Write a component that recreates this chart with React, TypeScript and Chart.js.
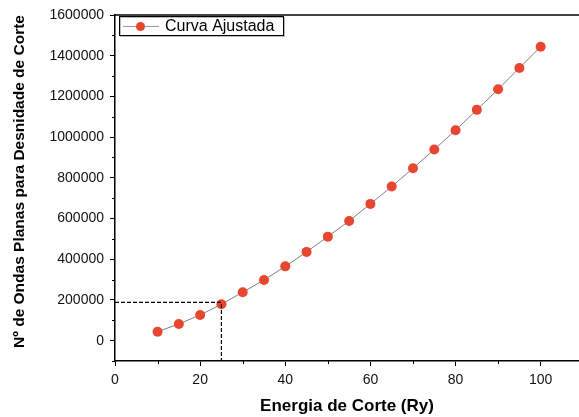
import React, { useEffect, useRef } from "react";
import { Chart, registerables } from "chart.js";

Chart.register(...registerables);

const energies = [10, 15, 20, 25, 30, 35, 40, 45, 50, 55, 60, 65, 70, 75, 80, 85, 90, 95, 100];
const planeWaves = [44000, 82000, 126000, 179000, 238000, 298000, 365000, 436000, 511000, 588000, 672000, 757000, 847000, 939000, 1034000, 1134000, 1235000, 1340000, 1444000];
const xMajorTicks = [0, 20, 40, 60, 80, 100];
const xMinorTicks = [10, 30, 50, 70, 90];
const yMajorTicks = [0, 200000, 400000, 600000, 800000, 1000000, 1200000, 1400000, 1600000];
const yMinorTicks = [-100000, 100000, 300000, 500000, 700000, 900000, 1100000, 1300000, 1500000];
const guideX = 25;
const guideY = 188000;
const legendLabel = "Curva Ajustada";
const xTitle = "Energia de Corte (Ry)";
const yTitle = "Nº de Ondas Planas para Desnidade de Corte";

const RED = "#e8462f";
const FONT = "'Liberation Sans', Arial, sans-serif";

const decorPlugin = {
  id: "decor",
  afterDraw(chart: any) {
    const { ctx, chartArea } = chart;
    const xs = chart.scales.x;
    const ys = chart.scales.y;
    ctx.save();
    // top border
    ctx.strokeStyle = "#000";
    ctx.lineWidth = 1.5;
    ctx.beginPath();
    ctx.moveTo(chartArea.left, chartArea.top);
    ctx.lineTo(chartArea.right, chartArea.top);
    ctx.stroke();
    // minor ticks
    ctx.lineWidth = 1;
    ctx.beginPath();
    xMinorTicks.forEach((v) => {
      const px = Math.round(xs.getPixelForValue(v)) + 0.5;
      ctx.moveTo(px, chartArea.bottom);
      ctx.lineTo(px, chartArea.bottom + 3);
    });
    yMinorTicks.forEach((v) => {
      const py = Math.round(ys.getPixelForValue(v)) + 0.5;
      ctx.moveTo(chartArea.left, py);
      ctx.lineTo(chartArea.left - 3, py);
    });
    ctx.stroke();
    // y title
    ctx.save();
    ctx.translate(20, 181.5);
    ctx.rotate(-Math.PI / 2);
    ctx.fillStyle = "#000";
    ctx.font = `bold 15.5px ${FONT}`;
    ctx.textAlign = "center";
    ctx.textBaseline = "middle";
    ctx.fillText(yTitle, 0, 0);
    ctx.restore();
    // legend
    const lx = chartArea.left + 4;
    const ly = chartArea.top + 1;
    const lw = 164;
    const lh = 19;
    ctx.fillStyle = "#fff";
    ctx.fillRect(lx, ly, lw, lh);
    ctx.strokeStyle = "#bbb";
    ctx.lineWidth = 1;
    ctx.strokeRect(lx + 1.5, ly + 1.5, lw, lh);
    ctx.strokeStyle = "#000";
    ctx.strokeRect(lx + 0.5, ly + 0.5, lw, lh);
    ctx.strokeStyle = "#999";
    ctx.beginPath();
    ctx.moveTo(lx + 4, ly + 10.5);
    ctx.lineTo(lx + 40, ly + 10.5);
    ctx.stroke();
    ctx.fillStyle = RED;
    ctx.beginPath();
    ctx.arc(lx + 21.5, ly + 10.5, 4.5, 0, Math.PI * 2);
    ctx.fill();
    ctx.fillStyle = "#000";
    ctx.font = `16px ${FONT}`;
    ctx.textBaseline = "middle";
    ctx.textAlign = "left";
    ctx.fillText(legendLabel, lx + 46, ly + 11);
    ctx.restore();
  },
};

export default function App() {
  const ref = useRef<HTMLCanvasElement | null>(null);
  useEffect(() => {
    document.body.style.margin = "0";
    document.body.style.background = "#fff";
    const canvas = ref.current!;
    const chart = new Chart(canvas, {
      type: "scatter",
      data: {
        datasets: [
          {
            label: "guide",
            data: [
              { x: xMajorTicks[0], y: guideY },
              { x: guideX, y: guideY },
              { x: guideX, y: yMinorTicks[0] },
            ],
            showLine: true,
            borderColor: "#000",
            borderWidth: 1.2,
            borderDash: [4, 2],
            pointRadius: 0,
            fill: false,
          },
          {
            label: legendLabel,
            data: energies.map((e, i) => ({ x: e, y: planeWaves[i] })),
            showLine: true,
            borderColor: "#808080",
            borderWidth: 1,
            pointRadius: 5,
            pointBackgroundColor: RED,
            pointBorderColor: RED,
            pointBorderWidth: 0,
          },
        ],
      },
      options: {
        responsive: false,
        animation: false,
        layout: { autoPadding: false, padding: { top: 15, right: 0, left: 0, bottom: 0 } },
        plugins: {
          legend: { display: false },
          tooltip: { enabled: false },
        },
        scales: {
          x: {
            type: "linear",
            min: 0,
            max: 109,
            afterBuildTicks: (s: any) => {
              s.ticks = xMajorTicks.map((v) => ({ value: v }));
            },
            afterFit: (s: any) => {
              s.height = 56;
              s.paddingLeft = 0;
              s.paddingRight = 0;
            },
            grid: {
              drawOnChartArea: false,
              drawTicks: true,
              tickLength: 5,
              tickColor: "#000",
              tickWidth: 1,
            },
            border: { display: true, color: "#000", width: 1.5 },
            ticks: {
              color: "#111",
              font: { family: FONT, size: 14 },
              padding: 6,
              maxRotation: 0,
              callback: (v: any) => String(v),
            },
            title: {
              display: true,
              text: xTitle,
              color: "#000",
              font: { family: FONT, size: 17, weight: "bold" },
              padding: { top: 0, bottom: 0 },
            },
          },
          y: {
            type: "linear",
            min: -100000,
            max: 1600000,
            afterBuildTicks: (s: any) => {
              s.ticks = yMajorTicks.map((v) => ({ value: v }));
            },
            afterFit: (s: any) => {
              s.width = 115;
              s.paddingTop = 0;
              s.paddingBottom = 0;
            },
            grid: {
              drawOnChartArea: false,
              drawTicks: true,
              tickLength: 5,
              tickColor: "#000",
              tickWidth: 1,
            },
            border: { display: true, color: "#000", width: 1.5 },
            ticks: {
              color: "#111",
              font: { family: FONT, size: 14 },
              padding: 6,
              callback: (v: any) => String(v),
            },
            title: { display: false },
          },
        },
      },
      plugins: [decorPlugin],
    } as any);
    return () => chart.destroy();
  }, []);
  return (
    <div style={{ width: 579, height: 417, background: "#fff" }}>
      <canvas ref={ref} width={579} height={417} />
    </div>
  );
}
